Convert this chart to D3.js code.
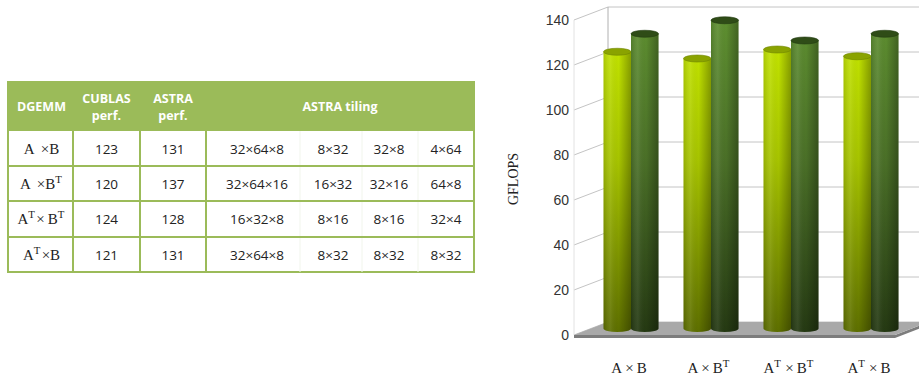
<!DOCTYPE html>
<html>
<head>
<meta charset="utf-8">
<script src="https://cdn.jsdelivr.net/npm/d3@7"></script>
<style>
  html, body { margin: 0; padding: 0; background: #fff; }
  svg { display: block; }
</style>
</head>
<body>
<svg id="fig" width="919" height="378"></svg>
<script>
// ---- data ----
const operations = ["A\u2009\u2009\u00d7B", "A\u2009\u2009\u00d7B^T", "A^T\u00d7\u2009B^T", "A^T\u00d7B"];
const categories = ["A\u2009\u00d7\u2009B", "A\u2009\u00d7\u2009B^T", "A^T\u2009\u00d7\u2009B^T", "A^T\u2009\u00d7\u2009B"];
const cublasPerf = [123, 120, 124, 121];
const astraPerf = [131, 137, 128, 131];
const tilingBlock = ["32\u00d764\u00d78", "32\u00d764\u00d716", "16\u00d732\u00d78", "32\u00d764\u00d78"];
const tilingA = ["8\u00d732", "16\u00d732", "8\u00d716", "8\u00d732"];
const tilingB = ["32\u00d78", "32\u00d716", "8\u00d716", "8\u00d732"];
const tilingC = ["4\u00d764", "64\u00d78", "32\u00d74", "8\u00d732"];
const yTicks = [0, 20, 40, 60, 80, 100, 120, 140];
const headers = [["DGEMM"], ["CUBLAS", "perf."], ["ASTRA", "perf."], ["ASTRA tiling"]];

const svg = d3.select("#fig");
const green = "#9bbb59";
const sansFont = "'Open Sans', 'Noto Sans', sans-serif";
const serifFont = "'Liberation Serif', 'DejaVu Serif', serif";

// Write text containing "^T" markers as base text plus superscript tspans
function mathText(sel, str, size) {
  const parts = str.split("^T");
  parts.forEach((p, i) => {
    if (p) sel.append("tspan").text(p);
    if (i < parts.length - 1) {
      sel.append("tspan").attr("dy", -size * 0.38).attr("font-size", size * 0.72).text("T");
      sel.append("tspan").attr("dy", size * 0.38).text("\u200a");
    }
  });
}

// ---- table ----
const tbl = svg.append("g");
const colX = [8, 73, 140, 206, 474];
const rowY = [82, 131, 166, 201, 237, 272];
const subCols = [257, 333, 389, 446];

tbl.append("rect").attr("x", colX[0]).attr("y", rowY[0])
  .attr("width", colX[4] - colX[0]).attr("height", rowY[1] - rowY[0]).attr("fill", green);
tbl.append("rect").attr("x", colX[0]).attr("y", rowY[0])
  .attr("width", colX[4] - colX[0]).attr("height", rowY[5] - rowY[0])
  .attr("fill", "none").attr("stroke", green).attr("stroke-width", 2);
// faint dividers inside the tiling column
[300, 362, 418].forEach(x => {
  tbl.append("line").attr("x1", x).attr("x2", x).attr("y1", rowY[1]).attr("y2", rowY[5])
    .attr("stroke", "#f1f5ec").attr("stroke-width", 1);
});
colX.slice(1, 4).forEach(x => {
  tbl.append("line").attr("x1", x).attr("x2", x).attr("y1", rowY[0]).attr("y2", rowY[5])
    .attr("stroke", green).attr("stroke-width", 2);
});
rowY.slice(2, 5).forEach(y => {
  tbl.append("line").attr("x1", colX[0]).attr("x2", colX[4]).attr("y1", y).attr("y2", y)
    .attr("stroke", green).attr("stroke-width", 2);
});

const headCenters = [(colX[0] + colX[1]) / 2 + 1, (colX[1] + colX[2]) / 2, (colX[2] + colX[3]) / 2, (colX[3] + colX[4]) / 2];
headers.forEach((lines, i) => {
  const t = tbl.append("text").attr("x", headCenters[i]).attr("text-anchor", "middle")
    .attr("font-family", sansFont).attr("font-weight", "bold").attr("font-size", 12.5).attr("fill", "#fff");
  if (lines.length === 1) {
    t.attr("y", 111).text(lines[0]);
  } else {
    t.append("tspan").attr("x", headCenters[i]).attr("y", 103).text(lines[0]);
    t.append("tspan").attr("x", headCenters[i]).attr("y", 120).text(lines[1]);
  }
});

operations.forEach((op, r) => {
  const yc = (rowY[r + 1] + rowY[r + 2]) / 2 + 5;
  const t = tbl.append("text").attr("x", headCenters[0]).attr("y", yc).attr("text-anchor", "middle")
    .attr("font-family", serifFont).attr("font-size", 15).attr("fill", "#222");
  mathText(t, op, 15);
  const cells = [
    [headCenters[1], cublasPerf[r]], [headCenters[2], astraPerf[r]],
    [subCols[0], tilingBlock[r]], [subCols[1], tilingA[r]], [subCols[2], tilingB[r]], [subCols[3], tilingC[r]]
  ];
  cells.forEach(([x, v]) => {
    tbl.append("text").attr("x", x).attr("y", yc).attr("text-anchor", "middle")
      .attr("font-family", sansFont).attr("font-size", 13.5).attr("fill", "#222").text(v);
  });
});

// ---- 3D cylinder chart ----
const depthX = 34, depthY = -13;
const y = d3.scaleLinear().domain([0, 140]).range([335, 20]);
const x0 = d3.scaleBand().domain(categories).range([574, 894]).paddingInner(0).paddingOuter(0);
const series = [cublasPerf, astraPerf];

const ch = svg.append("g");
const grid = "#c4c4c4";

// back wall and side wall grid
yTicks.forEach(v => {
  const yf = y(v), yb = y(v) + depthY;
  ch.append("line").attr("x1", 574).attr("y1", yf).attr("x2", 574 + depthX).attr("y2", yb)
    .attr("stroke", grid).attr("stroke-width", 1);
  ch.append("line").attr("x1", 574 + depthX).attr("y1", yb).attr("x2", 919).attr("y2", yb)
    .attr("stroke", grid).attr("stroke-width", 1);
});
ch.append("line").attr("x1", 574 + depthX).attr("x2", 574 + depthX)
  .attr("y1", y(140) + depthY).attr("y2", y(0) + depthY).attr("stroke", "#b0b0b0");
ch.append("line").attr("x1", 574).attr("x2", 574)
  .attr("y1", y(140)).attr("y2", y(0)).attr("stroke", "#e2e2e2");

// floor slab
const fl = 574, fr = 895, ff = y(0), fb = y(0) + depthY, th = 3;
ch.append("path")
  .attr("d", `M${fl},${ff} L${fr},${ff} L${fr + depthX},${fb} L${fr + depthX},${fb + th} L${fr},${ff + th} L${fl},${ff + th} Z`)
  .attr("fill", "#7d7d7d");
ch.append("path")
  .attr("d", `M${fl},${ff} L${fr},${ff} L${fr + depthX},${fb} L${fl + depthX},${fb} Z`)
  .attr("fill", "#a9a9a9");

// y tick labels
ch.selectAll("text.tick").data(yTicks).join("text")
  .attr("class", "tick").attr("x", 569).attr("y", d => y(d) + 5)
  .attr("text-anchor", "end").attr("font-family", "'Liberation Sans', Arial, sans-serif")
  .attr("font-size", 14).attr("fill", "#333").text(d => d);

// y title
ch.append("text").attr("transform", "translate(518,179) rotate(-90)")
  .attr("text-anchor", "middle").attr("font-family", serifFont).attr("font-size", 14)
  .attr("fill", "#222").text("GFLOPS");

// category labels
categories.forEach(c => {
  const t = ch.append("text").attr("x", x0(c) + x0.bandwidth() / 2 + depthX / 2 - 2).attr("y", 373)
    .attr("text-anchor", "middle").attr("font-family", serifFont).attr("font-size", 15).attr("fill", "#222");
  mathText(t, c, 15);
});

// gradients
const defs = svg.append("defs");
const palettes = [
  { top: "#c8ea00", mid: "#a6c300", bot: "#5c6d00", cap: "#8aa300", capEdge: "#6f8500" },
  { top: "#5e8f30", mid: "#4a6f27", bot: "#243812", cap: "#2f4c17", capEdge: "#223a10" }
];
palettes.forEach((p, i) => {
  const g = defs.append("linearGradient").attr("id", "body" + i)
    .attr("gradientUnits", "userSpaceOnUse").attr("x1", 0).attr("x2", 0).attr("y1", y(140)).attr("y2", y(0));
  g.append("stop").attr("offset", "0%").attr("stop-color", p.top);
  g.append("stop").attr("offset", "45%").attr("stop-color", p.mid);
  g.append("stop").attr("offset", "100%").attr("stop-color", p.bot);
});
const shade = defs.append("linearGradient").attr("id", "shade").attr("x1", 0).attr("x2", 1).attr("y1", 0).attr("y2", 0);
shade.append("stop").attr("offset", "0%").attr("stop-color", "#000").attr("stop-opacity", 0.12);
shade.append("stop").attr("offset", "25%").attr("stop-color", "#fff").attr("stop-opacity", 0.08);
shade.append("stop").attr("offset", "55%").attr("stop-color", "#000").attr("stop-opacity", 0);
shade.append("stop").attr("offset", "100%").attr("stop-color", "#000").attr("stop-opacity", 0.3);

const barW = 27.5, ry = 3.5;
const midX = depthX / 2, midY = depthY / 2;
categories.forEach((c, ci) => {
  const cx = x0(c) + x0.bandwidth() / 2 + midX;
  series.forEach((s, si) => {
    const left = cx - barW + si * barW;
    const yt = y(s[ci]) + midY, yb = y(0) + midY;
    const d = `M${left},${yt} L${left},${yb} A${barW / 2},${ry} 0 0 0 ${left + barW},${yb} L${left + barW},${yt} Z`;
    ch.append("path").attr("d", d).attr("fill", `url(#body${si})`);
    ch.append("path").attr("d", d).attr("fill", "url(#shade)");
    ch.append("ellipse").attr("cx", left + barW / 2).attr("cy", yt).attr("rx", barW / 2).attr("ry", ry)
      .attr("fill", palettes[si].cap).attr("stroke", palettes[si].capEdge).attr("stroke-width", 0.6);
  });
});
</script>
</body>
</html>
